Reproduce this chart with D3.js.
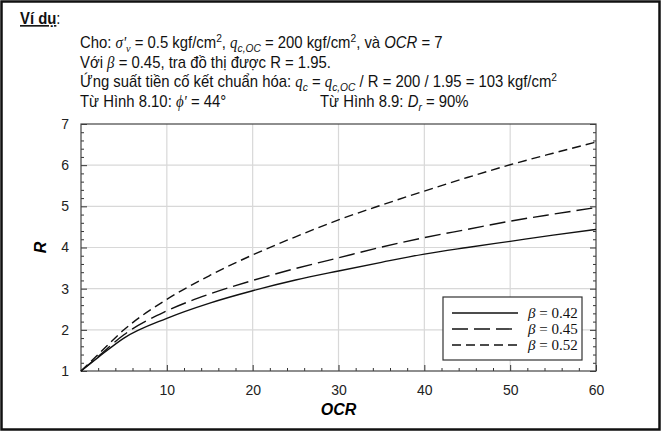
<!DOCTYPE html>
<html>
<head>
<meta charset="utf-8">
<script src="https://cdn.jsdelivr.net/npm/d3@7"></script>
<style>
  body { margin: 0; background: #fff; }
  svg { display: block; }
  .txt { font-family: "Liberation Sans", Arial, sans-serif; font-size: 16px; fill: #111; }
  .ser { font-family: "Liberation Serif", "Times New Roman", serif; font-style: italic; }
  .it { font-style: italic; }
  .axis text { font-family: "Liberation Sans", Arial, sans-serif; font-size: 14px; fill: #222; }
  .axis path { display: none; }
  .axis line { stroke: #333; }
</style>
</head>
<body>
<div id="chart"></div>
<script>
"use strict";

// OCR values read along the x axis
var ocr = [0, 2, 5, 10, 15, 20, 25, 30, 35, 40, 45, 50, 55, 60];
// R
var r042 = [1, 1.33, 1.80, 2.28, 2.65, 2.95, 3.21, 3.43, 3.64, 3.84, 4.00, 4.15, 4.30, 4.44];
var r045 = [1, 1.35, 1.88, 2.46, 2.87, 3.20, 3.49, 3.75, 4.01, 4.24, 4.44, 4.64, 4.81, 4.97];
var r052 = [1, 1.40, 2.00, 2.74, 3.32, 3.82, 4.26, 4.67, 5.03, 5.37, 5.70, 6.01, 6.29, 6.56];
var seriesNames = ["0.42", "0.45", "0.52"];
var seriesVals = [r042, r045, r052];
var dashes = [null, "16,6", "9,5"];

var xTicks = [10, 20, 30, 40, 50, 60];
var yTicks = [1, 2, 3, 4, 5, 6, 7];

var W = 661, H = 431;
var pL = 81, pR = 596, pT = 124, pB = 371;

var svg = d3.select("#chart").append("svg")
  .attr("width", W)
  .attr("height", H);

// outer frame
svg.append("rect")
  .attr("x", 1.5).attr("y", 1.5)
  .attr("width", W - 3).attr("height", H - 3)
  .attr("fill", "#fff")
  .attr("stroke", "#111")
  .attr("stroke-width", 2.5);

// header text (slightly narrowed, like the original's condensed face)
var head = svg.append("g").attr("class", "txt");
var squeeze = 0.93;

var t0 = head.append("text")
  .attr("transform", "translate(20,24) scale(" + squeeze + ",1)")
  .style("font-weight", "bold");
t0.append("tspan").text("Ví dụ").style("text-decoration", "underline");
t0.append("tspan").text(":").style("font-weight", "normal");

function textLine(yPos, xPos, parts) {
  var t = head.append("text")
    .attr("transform", "translate(" + xPos + "," + yPos + ") scale(" + squeeze + ",1)");
  parts.forEach(function(p) {
    var s = t.append("tspan").text(p.t);
    if (p.c) s.attr("class", p.c);
    if (p.sub) s.attr("dy", 4).style("font-size", "11px");
    if (p.sup) s.attr("dy", -6).style("font-size", "11px");
    if (p.back) s.attr("dy", p.back);
  });
  return t;
}

textLine(48, 80, [
  {t: "Cho: "}, {t: "σ'", c: "ser"}, {t: "v", c: "ser", sub: 1},
  {t: " = 0.5 kgf/cm", back: -4}, {t: "2", sup: 1},
  {t: ", ", back: 6}, {t: "q", c: "ser"}, {t: "c,OC", c: "it", sub: 1},
  {t: " = 200 kgf/cm", back: -4}, {t: "2", sup: 1},
  {t: ", và ", back: 6}, {t: "OCR", c: "it"}, {t: " = 7"}
]);
textLine(68, 80, [
  {t: "Với "}, {t: "β", c: "ser"}, {t: " = 0.45, tra đồ thị được R = 1.95."}
]);
textLine(87, 80, [
  {t: "Ứng suất tiền cố kết chuẩn hóa: "}, {t: "q", c: "ser"}, {t: "c", c: "it", sub: 1},
  {t: " = ", back: -4}, {t: "q", c: "ser"}, {t: "c,OC", c: "it", sub: 1},
  {t: " / R = 200 / 1.95 = 103 kgf/cm", back: -4}, {t: "2", sup: 1}
]);
textLine(107, 80, [
  {t: "Từ Hình 8.10: "}, {t: "ϕ'", c: "ser"}, {t: " = 44°"}
]);
textLine(107, 320, [
  {t: "Từ Hình 8.9: "}, {t: "D", c: "it"}, {t: "r", c: "it", sub: 1}, {t: " = 90%", back: -4}
]);

// scales
var x = d3.scaleLinear().domain([0, 60]).range([pL, pR]);
var y = d3.scaleLinear().domain([1, 7]).range([pB, pT]);

// grid
var grid = svg.append("g");
grid.selectAll(".gx").data(xTicks.slice(0, -1)).join("line")
  .attr("x1", d => x(d)).attr("x2", d => x(d))
  .attr("y1", pT).attr("y2", pB)
  .attr("stroke", "#d8d8d8").attr("stroke-width", 1.2);
grid.selectAll(".gy").data(yTicks.slice(1, -1)).join("line")
  .attr("x1", pL).attr("x2", pR)
  .attr("y1", d => y(d)).attr("y2", d => y(d))
  .attr("stroke", "#d8d8d8").attr("stroke-width", 1.2);

// axes with inward ticks
var minorX = d3.range(2, 60, 2).filter(d => d % 10 !== 0);
var minorY = d3.range(1.2, 7, 0.2).filter(d => Math.abs(d - Math.round(d)) > 0.01);

svg.append("g").attr("class", "axis")
  .attr("transform", "translate(0," + pB + ")")
  .call(d3.axisBottom(x).tickValues(xTicks).tickSize(-6).tickPadding(14).tickFormat(d3.format("d")));
svg.append("g").attr("class", "axis")
  .attr("transform", "translate(0," + pB + ")")
  .call(d3.axisBottom(x).tickValues(minorX).tickSize(-3).tickFormat(""));

svg.append("g").attr("class", "axis")
  .attr("transform", "translate(" + pL + ",0)")
  .call(d3.axisLeft(y).tickValues(yTicks).tickSize(-6).tickPadding(12).tickFormat(d3.format("d")));
svg.append("g").attr("class", "axis")
  .attr("transform", "translate(" + pL + ",0)")
  .call(d3.axisLeft(y).tickValues(minorY).tickSize(-3).tickFormat(""));

svg.append("g").attr("class", "axis")
  .attr("transform", "translate(" + pR + ",0)")
  .call(d3.axisRight(y).tickValues(yTicks).tickSize(-6).tickFormat(""));
svg.append("g").attr("class", "axis")
  .attr("transform", "translate(" + pR + ",0)")
  .call(d3.axisRight(y).tickValues(minorY).tickSize(-3).tickFormat(""));

// plot frame
svg.append("rect")
  .attr("x", pL).attr("y", pT)
  .attr("width", pR - pL).attr("height", pB - pT)
  .attr("fill", "none").attr("stroke", "#444").attr("stroke-width", 1.2);

// curves
var lineGen = d3.line()
  .x((d, i) => x(ocr[i]))
  .y(d => y(d))
  .curve(d3.curveMonotoneX);

seriesVals.forEach(function(vals, k) {
  svg.append("path")
    .datum(vals)
    .attr("d", lineGen)
    .attr("fill", "none")
    .attr("stroke", "#111")
    .attr("stroke-width", 1.4)
    .attr("stroke-dasharray", dashes[k]);
});

// axis titles
svg.append("text")
  .attr("x", (pL + pR) / 2).attr("y", 415)
  .attr("text-anchor", "middle")
  .style("font-family", "Liberation Sans, Arial, sans-serif")
  .style("font-size", "16px").style("font-weight", "bold").style("font-style", "italic")
  .text("OCR");
svg.append("text")
  .attr("transform", "translate(46," + ((pT + pB) / 2) + ") rotate(-90)")
  .attr("text-anchor", "middle")
  .style("font-family", "Liberation Sans, Arial, sans-serif")
  .style("font-size", "16px").style("font-weight", "bold").style("font-style", "italic")
  .text("R");

// legend
var lg = svg.append("g");
lg.append("rect")
  .attr("x", 443).attr("y", 297).attr("width", 139).attr("height", 63)
  .attr("fill", "#fff").attr("stroke", "#333").attr("stroke-width", 1.2);
seriesNames.forEach(function(nm, k) {
  var yy = 313 + k * 16;
  lg.append("line")
    .attr("x1", 452).attr("x2", 518).attr("y1", yy).attr("y2", yy)
    .attr("stroke", "#111").attr("stroke-width", 1.4)
    .attr("stroke-dasharray", dashes[k]);
  var t = lg.append("text")
    .attr("x", 528).attr("y", yy + 5)
    .style("font-family", "Liberation Serif, Times New Roman, serif")
    .style("font-size", "15px").style("fill", "#111");
  t.append("tspan").text("β").style("font-style", "italic");
  t.append("tspan").text(" = " + nm);
});
</script>
</body>
</html>
